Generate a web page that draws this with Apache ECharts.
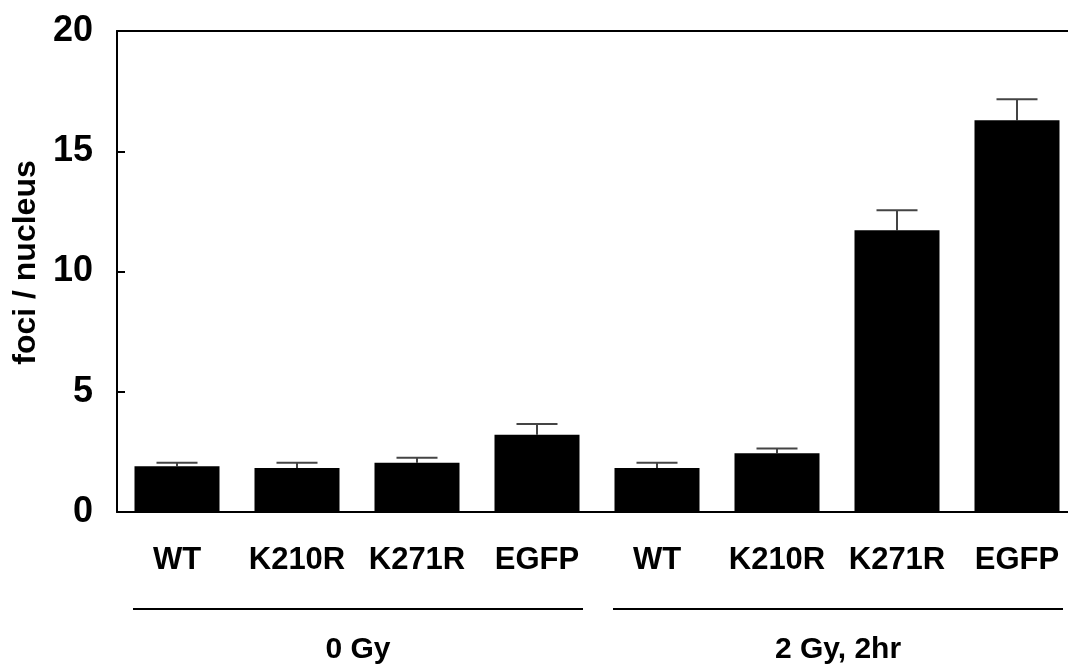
<!DOCTYPE html>
<html>
<head>
<meta charset="utf-8">
<script src="https://cdn.jsdelivr.net/npm/echarts@6/dist/echarts.min.js"></script>
<style>
html,body{margin:0;padding:0;background:#fff;}
#main{width:1068px;height:666px;}
</style>
</head>
<body>
<div id="main"></div>
<script>
// ---- data ----
var categories = ['WT', 'K210R', 'K271R', 'EGFP', 'WT', 'K210R', 'K271R', 'EGFP'];
var means = [1.90, 1.83, 2.05, 3.21, 1.83, 2.44, 11.72, 16.29];
var errors = [0.15, 0.22, 0.21, 0.45, 0.22, 0.20, 0.83, 0.87];
var groups = [
  { label: '0 Gy', from: 0, to: 3 },
  { label: '2 Gy, 2hr', from: 4, to: 7 }
];
var yTicks = [0, 5, 10, 15, 20];
var yTitle = 'foci / nucleus';

var FONT = '"Liberation Sans", Arial, Helvetica, sans-serif';
var chart = echarts.init(document.getElementById('main'), null, { renderer: 'canvas' });

var errData = means.map(function (m, i) { return [i, m, m + errors[i]]; });

var option = {
  animation: false,
  backgroundColor: '#ffffff',
  grid: { left: 117, width: 960, top: 31, bottom: 154, containLabel: false, outerBoundsMode: 'none' },
  xAxis: [
    {
      type: 'category',
      data: categories,
      position: 'bottom',
      axisLine: { show: true, lineStyle: { color: '#000', width: 2 } },
      axisTick: { show: false },
      axisLabel: {
        interval: 0, margin: 33,
        fontFamily: FONT, fontWeight: 'bold', fontSize: 31, color: '#000'
      },
      splitLine: { show: false }
    },
    {
      type: 'category',
      data: categories,
      position: 'top',
      axisLine: { show: true, lineStyle: { color: '#000', width: 2 } },
      axisTick: { show: false },
      axisLabel: { show: false },
      splitLine: { show: false }
    }
  ],
  yAxis: {
    type: 'value',
    min: yTicks[0],
    max: yTicks[yTicks.length - 1],
    interval: yTicks[1] - yTicks[0],
    name: yTitle,
    nameLocation: 'middle',
    nameRotate: 90,
    nameGap: 72,
    nameTextStyle: { fontFamily: FONT, fontWeight: 'bold', fontSize: 32, color: '#000', padding: [0, 0, 0, 18] },
    axisLine: { show: true, lineStyle: { color: '#000', width: 2 } },
    axisTick: { show: true, inside: true, length: 8, lineStyle: { color: '#000', width: 2 } },
    axisLabel: {
      margin: 24,
      fontFamily: FONT, fontWeight: 'bold', fontSize: 36, color: '#000',
      verticalAlign: 'middle',
      padding: [0, 0, 16, 0]
    },
    splitLine: { show: false }
  },
  series: [
    {
      type: 'bar',
      data: means,
      barWidth: 85,
      itemStyle: { color: '#000' },
      silent: true,
      z: 2
    },
    {
      type: 'custom',
      data: errData,
      z: 1,
      silent: true,
      renderItem: function (params, api) {
        var x = api.value(0);
        var top = api.coord([x, api.value(2)]);
        var base = api.coord([x, api.value(1)]);
        var half = 20.5;
        var st = { stroke: '#444', lineWidth: 2, fill: null };
        return {
          type: 'group',
          children: [
            { type: 'line', shape: { x1: top[0], y1: base[1], x2: top[0], y2: top[1] }, style: st },
            { type: 'line', shape: { x1: top[0] - half, y1: top[1], x2: top[0] + half, y2: top[1] }, style: st }
          ]
        };
      }
    }
  ]
};
chart.setOption(option);

// group brackets positioned from the category axis
var lineY = 609;
var labelY = 650;
var graphics = [];
groups.forEach(function (g) {
  var x1 = chart.convertToPixel({ xAxisIndex: 0 }, g.from) - 44;
  var x2 = chart.convertToPixel({ xAxisIndex: 0 }, g.to) + 46;
  graphics.push({
    type: 'line',
    shape: { x1: x1, y1: lineY, x2: x2, y2: lineY },
    style: { stroke: '#000', lineWidth: 2 }
  });
  graphics.push({
    type: 'text',
    x: (x1 + x2) / 2,
    y: labelY,
    style: {
      text: g.label,
      font: 'bold 30px ' + FONT,
      fill: '#000',
      align: 'center',
      verticalAlign: 'middle'
    }
  });
});
chart.setOption({ graphic: graphics });
</script>
</body>
</html>
